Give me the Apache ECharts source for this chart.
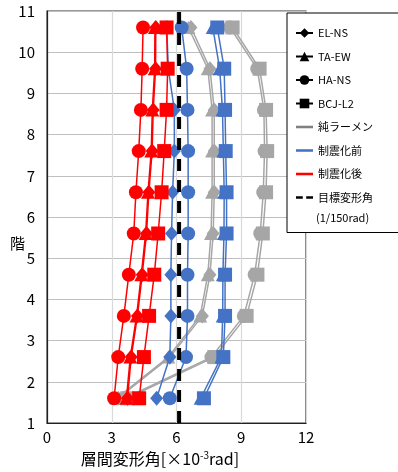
<!DOCTYPE html>
<html>
<head>
<meta charset="utf-8">
<script src="https://cdn.jsdelivr.net/npm/echarts@6/dist/echarts.min.js"></script>
<style>html,body{margin:0;padding:0;background:#fff}#c{width:398px;height:472px}</style>
</head>
<body>
<div id="c"></div>
<script>
// Floor positions (plotted between integer floor lines)
const floors = [1.6, 2.6, 3.6, 4.6, 5.6, 6.6, 7.6, 8.6, 9.6, 10.6];
const xTicks = [0, 3, 6, 9, 12];
const yTicks = [1, 2, 3, 4, 5, 6, 7, 8, 9, 10, 11];
const targetDrift = 6.12;

// 純ラーメン (gray)
const grayEL  = [3.30, 5.70, 7.20, 7.55, 7.70, 7.75, 7.75, 7.75, 7.55, 6.67];
const grayTA  = [3.22, 5.62, 7.10, 7.45, 7.60, 7.65, 7.65, 7.65, 7.45, 6.55];
const grayHA  = [3.60, 7.62, 9.12, 9.62, 9.88, 10.02, 10.08, 10.05, 9.74, 8.48];
const grayBCJ = [3.72, 7.75, 9.25, 9.75, 10.00, 10.15, 10.20, 10.15, 9.85, 8.60];

// 制震化前 (blue)
const blueEL  = [5.08, 5.69, 5.74, 5.74, 5.77, 5.82, 5.90, 5.90, 5.62, 5.55];
const blueTA  = [7.12, 8.08, 8.14, 8.15, 8.20, 8.21, 8.17, 8.13, 8.00, 7.68];
const blueHA  = [5.69, 6.44, 6.51, 6.51, 6.54, 6.54, 6.54, 6.51, 6.47, 6.24];
const blueBCJ = [7.27, 8.17, 8.25, 8.25, 8.32, 8.32, 8.28, 8.25, 8.21, 7.89];

// 制震化後 (red)
const redEL  = [3.73, 3.90, 4.19, 4.41, 4.61, 4.72, 4.87, 4.92, 5.03, 5.04];
const redTA  = [3.68, 3.86, 4.15, 4.37, 4.57, 4.68, 4.83, 4.88, 4.99, 5.00];
const redHA  = [3.11, 3.30, 3.56, 3.79, 4.02, 4.12, 4.25, 4.35, 4.41, 4.45];
const redBCJ = [4.27, 4.49, 4.73, 4.97, 5.15, 5.31, 5.43, 5.54, 5.59, 5.54];

const legendNames = ['EL-NS', 'TA-EW', 'HA-NS', 'BCJ-L2', '純ラーメン', '制震化前', '制震化後', '目標変形角'];

const FONT = '"Noto Sans CJK JP", "Noto Sans", sans-serif';
const GRAY = '#a6a6a6', BLUE = '#4472c4', RED = '#ff0000';

const symbols = { EL: 'diamond', TA: 'triangle', HA: 'circle', BCJ: 'rect' };
const symSize = { EL: [13, 15], TA: [14, 13], HA: 14, BCJ: 14 };

function pts(vals) { return vals.map((v, i) => [v, floors[i]]); }
function mk(name, vals, color, key, z) {
  return {
    name: name, type: 'line', data: pts(vals), z: z,
    symbol: symbols[key], symbolSize: symSize[key],
    showSymbol: true,
    lineStyle: { color: color, width: 1.5 },
    itemStyle: { color: color },
    emphasis: { disabled: true },
    animation: false
  };
}

const series = [
  mk('g-TA', grayTA, GRAY, 'TA', 2), mk('g-EL', grayEL, GRAY, 'EL', 2),
  mk('g-HA', grayHA, GRAY, 'HA', 2), mk('g-BCJ', grayBCJ, GRAY, 'BCJ', 2),
  mk('b-EL', blueEL, BLUE, 'EL', 3), mk('b-TA', blueTA, BLUE, 'TA', 3),
  mk('b-HA', blueHA, BLUE, 'HA', 3), mk('b-BCJ', blueBCJ, BLUE, 'BCJ', 3),
  mk('r-TA', redTA, RED, 'TA', 4), mk('r-EL', redEL, RED, 'EL', 4),
  mk('r-HA', redHA, RED, 'HA', 4), mk('r-BCJ', redBCJ, RED, 'BCJ', 4),
  {
    name: 'target', type: 'line', data: [[targetDrift, 1], [targetDrift, 11]],
    symbol: 'none', z: 6, animation: false,
    lineStyle: { color: '#000', width: 4, type: [12, 9] }
  },
  // legend-only entries
  { name: 'EL-NS', type: 'line', data: [], symbol: 'diamond', symbolSize: 12, itemStyle: { color: '#000' }, lineStyle: { color: '#000', width: 3 } },
  { name: 'TA-EW', type: 'line', data: [], symbol: 'triangle', symbolSize: 12, itemStyle: { color: '#000' }, lineStyle: { color: '#000', width: 3 } },
  { name: 'HA-NS', type: 'line', data: [], symbol: 'circle', symbolSize: 12, itemStyle: { color: '#000' }, lineStyle: { color: '#000', width: 3 } },
  { name: 'BCJ-L2', type: 'line', data: [], symbol: 'rect', symbolSize: 12, itemStyle: { color: '#000' }, lineStyle: { color: '#000', width: 3 } },
  { name: '純ラーメン', type: 'line', data: [], symbol: 'none', itemStyle: { color: '#808080' }, lineStyle: { color: '#808080', width: 3 } },
  { name: '制震化前', type: 'line', data: [], symbol: 'none', itemStyle: { color: BLUE }, lineStyle: { color: BLUE, width: 3 } },
  { name: '制震化後', type: 'line', data: [], symbol: 'none', itemStyle: { color: RED }, lineStyle: { color: RED, width: 3 } },
  { name: '目標変形角', type: 'line', data: [], symbol: 'none', itemStyle: { color: '#000' }, lineStyle: { color: '#000', width: 3 } }
];

const lineIcon = 'path://M0,0h20v3h-20z';
const dashIcon = 'path://M0,0h8v3h-8zM12,0h8v3h-8z';
const legendData = legendNames.map((n, i) => {
  if (i < 4) return { name: n };
  return { name: n, icon: i === 7 ? dashIcon : lineIcon };
});

const chart = echarts.init(document.getElementById('c'), null, { renderer: 'canvas' });
chart.setOption({
  animation: false,
  backgroundColor: '#fff',
  textStyle: { fontFamily: FONT },
  grid: { left: 47, right: 92, top: 11, bottom: 46, show: true, borderColor: '#333', borderWidth: 1.2, containLabel: false },
  xAxis: {
    type: 'value', min: xTicks[0], max: xTicks[xTicks.length - 1], interval: 3,
    axisLine: { show: true, lineStyle: { color: '#222', width: 1.2 } },
    axisTick: { show: false },
    splitLine: { show: true, lineStyle: { color: '#d9d9d9', width: 1.2 } },
    axisLabel: { color: '#000', fontSize: 15, margin: 7, fontFamily: FONT },
    name: '層間変形角[×10{sup|-3}rad]', nameLocation: 'middle', nameGap: 27,
    nameTextStyle: { color: '#000', fontSize: 16, fontFamily: FONT, padding: [0, 33, 0, 0],
      rich: { sup: { fontSize: 10, color: '#000', padding: [0, 0, 8, 0], fontFamily: FONT } } }
  },
  yAxis: {
    type: 'value', min: yTicks[0], max: yTicks[yTicks.length - 1], interval: 1,
    axisLine: { show: true, lineStyle: { color: '#222', width: 1.2 } },
    axisTick: { show: false },
    splitLine: { show: true, lineStyle: { color: '#bfbfbf', width: 1.2 } },
    axisLabel: { color: '#000', fontSize: 15, margin: 12, fontFamily: FONT }
  },
  legend: {
    data: legendData, orient: 'vertical', left: 287, top: 13,
    padding: [13, 40, 28, 8], itemGap: 9.5, itemWidth: 17, itemHeight: 12,
    backgroundColor: '#fff', borderColor: '#000', borderWidth: 1,
    selectedMode: false,
    textStyle: { color: '#000', fontSize: 11, lineHeight: 14, fontFamily: FONT }
  },
  graphic: [
    { type: 'text', left: 316, top: 212, z: 100,
      style: { text: '(1/150rad)', fill: '#000', font: '11px ' + FONT } },
    { type: 'text', left: 10, top: 236, z: 100,
      style: { text: '階', fill: '#000', font: '15px ' + FONT } }
  ],
  series: series
});
</script>
</body>
</html>
